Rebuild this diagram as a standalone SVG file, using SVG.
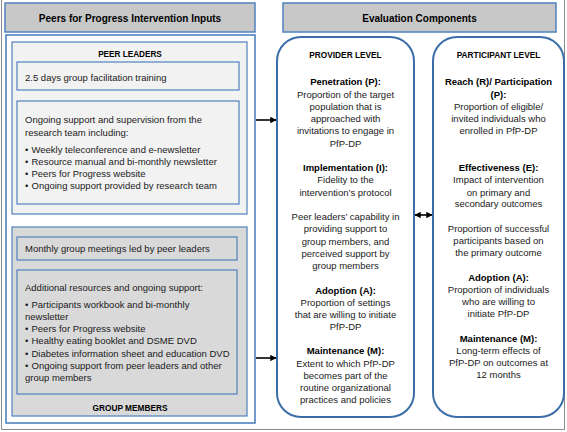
<svg xmlns="http://www.w3.org/2000/svg" width="567" height="432" viewBox="0 0 567 432">
<defs>
<style>
text{font-family:"Liberation Sans",Arial,sans-serif;font-size:9.5px;fill:#1a1a1a}
.b{font-weight:bold;fill:#000}
.h{font-weight:bold;font-size:10px;text-anchor:middle;fill:#000}
.c{text-anchor:middle}
.hdr{fill:#c8c8c8;stroke:#4f81bd;stroke-width:1.5}
.pl{fill:#f2f2f2;stroke:#4f81bd;stroke-width:1.2}
.gm{fill:#d9d9d9;stroke:#4f81bd;stroke-width:1.2}
.rb{fill:#ffffff;stroke:#3b6ea8;stroke-width:2}
.ln{stroke:#000;stroke-width:1.6;fill:none}
</style>
<marker id="ah" viewBox="0 0 10 10" refX="9" refY="5" markerWidth="4" markerHeight="4" orient="auto-start-reverse">
<path d="M0,0 L10,5 L0,10 z" fill="#000"/>
</marker>
</defs>
<rect width="567" height="432" fill="#ffffff"/>
<path d="M1.5,0 V429.5 H564.5 V0" fill="none" stroke="#8a8a8a" stroke-width="1"/>

<g id="header-inputs">
<rect class="hdr" x="5" y="3" width="250" height="29"/>
<text class="h" x="130" y="21.5">Peers for Progress Intervention Inputs</text>
</g>
<g id="header-evaluation">
<rect class="hdr" x="283" y="3" width="273" height="29"/>
<text class="h" x="419.5" y="21.5">Evaluation Components</text>
</g>

<g id="inputs-panel">
<rect x="6" y="35" width="249" height="388" fill="#ffffff" stroke="#4f81bd" stroke-width="1.6"/>
</g>

<g id="peer-leaders">
<rect class="pl" x="12" y="42" width="235" height="172"/>
<text class="b c" x="130" y="57" style="font-size:8.2px">PEER LEADERS</text>
</g>
<g id="training">
<rect class="pl" x="17" y="62" width="222" height="28"/>
<text x="25" y="80.5">2.5 days group facilitation training</text>
</g>
<g id="ongoing-support">
<rect class="pl" x="17" y="101" width="222" height="103"/>
<text x="25" y="123">Ongoing support and supervision from the</text>
<text x="25" y="135.5">research team including:</text>
<text x="25" y="152.5">•<tspan x="31.5">Weekly teleconference and e-newsletter</tspan></text>
<text x="25" y="165">•<tspan x="31.5">Resource manual and bi-monthly newsletter</tspan></text>
<text x="25" y="177">•<tspan x="31.5">Peers for Progress website</tspan></text>
<text x="25" y="189">•<tspan x="31.5">Ongoing support provided by research team</tspan></text>
</g>

<g id="group-members">
<rect class="gm" x="12" y="227" width="235" height="189"/>
<text class="b c" x="130" y="410.5" style="font-size:8.3px">GROUP MEMBERS</text>
</g>
<g id="monthly-meetings">
<rect class="gm" x="17" y="237" width="220" height="23"/>
<text x="25" y="252">Monthly group meetings led by peer leaders</text>
</g>
<g id="additional-resources">
<rect class="gm" x="17" y="270" width="220" height="124"/>
<text x="25" y="291">Additional resources and ongoing support:</text>
<text x="25" y="307.5">•<tspan x="31.5">Participants workbook and bi-monthly</tspan></text>
<text x="25" y="320">newsletter</text>
<text x="25" y="332">•<tspan x="31.5">Peers for Progress website</tspan></text>
<text x="25" y="344">•<tspan x="31.5">Healthy eating booklet and DSME DVD</tspan></text>
<text x="25" y="356.5">•<tspan x="31.5">Diabetes information sheet and education DVD</tspan></text>
<text x="25" y="369">•<tspan x="31.5">Ongoing support from peer leaders and other</tspan></text>
<text x="25" y="381">group members</text>
</g>

<g id="provider-level">
<rect class="rb" x="277" y="37" width="137" height="380" rx="24" ry="24"/>
<text class="b c" x="345.5" y="57.5" style="font-size:8.3px">PROVIDER LEVEL</text>
<text class="b c" x="345.5" y="85">Penetration (P):</text>
<text class="c" x="345.5" y="97.5">Proportion of the target</text>
<text class="c" x="345.5" y="110">population that is</text>
<text class="c" x="345.5" y="122">approached with</text>
<text class="c" x="345.5" y="134">invitations to engage in</text>
<text class="c" x="345.5" y="146.5">PfP-DP</text>
<text class="b c" x="345.5" y="170.5">Implementation (I):</text>
<text class="c" x="345.5" y="183">Fidelity to the</text>
<text class="c" x="345.5" y="195.5">intervention’s protocol</text>
<text class="c" x="345.5" y="219.5">Peer leaders’ capability in</text>
<text class="c" x="345.5" y="232">providing support to</text>
<text class="c" x="345.5" y="244.5">group members, and</text>
<text class="c" x="345.5" y="256.5">perceived support by</text>
<text class="c" x="345.5" y="269">group members</text>
<text class="b c" x="345.5" y="293.5">Adoption (A):</text>
<text class="c" x="345.5" y="305.5">Proportion of settings</text>
<text class="c" x="345.5" y="317.5">that are willing to initiate</text>
<text class="c" x="345.5" y="330">PfP-DP</text>
<text class="b c" x="345.5" y="354">Maintenance (M):</text>
<text class="c" x="345.5" y="366.5">Extent to which PfP-DP</text>
<text class="c" x="345.5" y="379">becomes part of the</text>
<text class="c" x="345.5" y="391">routine organizational</text>
<text class="c" x="345.5" y="403">practices and policies</text>
</g>

<g id="participant-level">
<rect class="rb" x="433" y="37" width="131" height="380" rx="24" ry="24"/>
<text class="b c" x="498.5" y="57.5" style="font-size:8.3px">PARTICIPANT LEVEL</text>
<text class="b c" x="498.5" y="85">Reach (R)/ Participation</text>
<text class="b c" x="498.5" y="97.5">(P):</text>
<text class="c" x="498.5" y="110">Proportion of eligible/</text>
<text class="c" x="498.5" y="121.5">invited individuals who</text>
<text class="c" x="498.5" y="134">enrolled in PfP-DP</text>
<text class="b c" x="498.5" y="170.5">Effectiveness (E):</text>
<text class="c" x="498.5" y="183">Impact of intervention</text>
<text class="c" x="498.5" y="195.5">on primary and</text>
<text class="c" x="498.5" y="207">secondary outcomes</text>
<text class="c" x="498.5" y="231.5">Proportion of successful</text>
<text class="c" x="498.5" y="244">participants based on</text>
<text class="c" x="498.5" y="256">the primary outcome</text>
<text class="b c" x="498.5" y="281">Adoption (A):</text>
<text class="c" x="498.5" y="293">Proportion of individuals</text>
<text class="c" x="498.5" y="305">who are willing to</text>
<text class="c" x="498.5" y="317">initiate PfP-DP</text>
<text class="b c" x="498.5" y="341.5">Maintenance (M):</text>
<text class="c" x="498.5" y="354">Long-term effects of</text>
<text class="c" x="498.5" y="366">PfP-DP on outcomes at</text>
<text class="c" x="498.5" y="378">12 months</text>
</g>

<g id="connectors">
<line class="ln" x1="256" y1="120" x2="276" y2="120" marker-end="url(#ah)"/>
<line class="ln" x1="256" y1="358" x2="276" y2="358" marker-end="url(#ah)"/>
<line class="ln" x1="415" y1="215" x2="432" y2="215" marker-start="url(#ah)" marker-end="url(#ah)"/>
</g>
</svg>
